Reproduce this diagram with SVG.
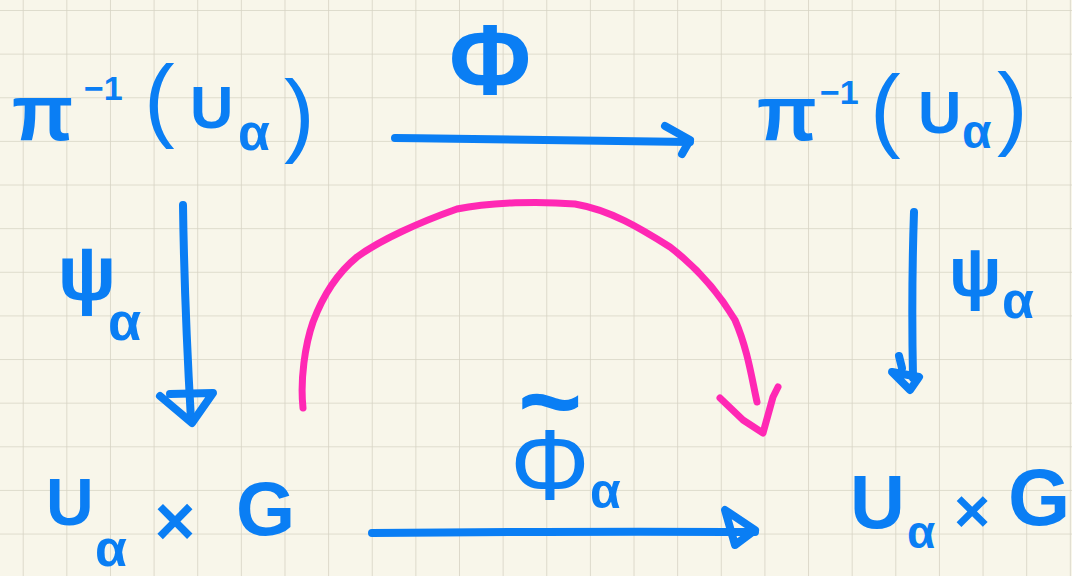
<svg xmlns="http://www.w3.org/2000/svg" width="1072" height="576" viewBox="0 0 1072 576">
  <defs>
    <pattern id="grid" patternUnits="userSpaceOnUse" x="22.7" y="10" width="43.63" height="43.63">
      <path d="M0,0 V43.63 M0,0 H43.63" fill="none" stroke="#d6d3c4" stroke-width="1.6"/>
    </pattern>
  </defs>
  <style>
    .t { font-family: "Liberation Sans", Arial, sans-serif; font-weight: bold; fill: #0a7ef4; }
    .blue { fill: none; stroke: #0a7ef4; stroke-width: 8; stroke-linecap: round; stroke-linejoin: round; }
    .pink { fill: none; stroke: #ff28b4; stroke-width: 7; stroke-linecap: round; stroke-linejoin: round; }
  </style>
  <rect width="1072" height="576" fill="#f8f6ea"/>
  <rect width="1072" height="576" fill="url(#grid)"/>

  <g id="node-top-left">
    <text class="t"><tspan x="12" y="140" font-size="80">π</tspan><tspan x="84" y="100" font-size="34">−1</tspan><tspan x="144" y="130" font-size="92" font-weight="normal">(</tspan><tspan x="190" y="128" font-size="60">U</tspan><tspan x="238" y="150" font-size="52">α</tspan><tspan x="284" y="145" font-size="92" font-weight="normal">)</tspan></text>
  </g>

  <g id="node-top-right">
    <text class="t"><tspan x="757" y="140" font-size="78">π</tspan><tspan x="820" y="104" font-size="34">−1</tspan><tspan x="870" y="140" font-size="92" font-weight="normal">(</tspan><tspan x="918" y="133" font-size="60">U</tspan><tspan x="962" y="148" font-size="48">α</tspan><tspan x="997" y="138" font-size="92" font-weight="normal">)</tspan></text>
  </g>

  <g id="node-bottom-left">
    <text class="t"><tspan x="46" y="525" font-size="66">U</tspan><tspan x="95" y="566" font-size="52">α</tspan><tspan x="175" y="545" font-size="70" text-anchor="middle">×</tspan><tspan x="236" y="535" font-size="76">G</tspan></text>
  </g>

  <g id="node-bottom-right">
    <text class="t"><tspan x="850" y="528" font-size="76">U</tspan><tspan x="907" y="548" font-size="46">α</tspan><tspan x="972" y="532" font-size="62" text-anchor="middle">×</tspan><tspan x="1008" y="525" font-size="80">G</tspan></text>
  </g>

  <g id="label-phi">
    <text class="t" x="490" y="94" font-size="100" font-weight="normal" text-anchor="middle">Φ</text>
  </g>

  <g id="label-psi-left">
    <text class="t"><tspan x="87" y="300" font-size="78" text-anchor="middle">ψ</tspan><tspan x="108" y="340" font-size="54">α</tspan></text>
  </g>

  <g id="label-psi-right">
    <text class="t"><tspan x="975" y="296" font-size="70" text-anchor="middle">ψ</tspan><tspan x="1002" y="318" font-size="52">α</tspan></text>
  </g>

  <g id="label-phi-tilde">
    <text class="t"><tspan x="550" y="439" font-size="110" text-anchor="middle">~</tspan><tspan x="550" y="500" font-size="100" font-weight="normal" text-anchor="middle">Φ</tspan><tspan x="590" y="508" font-size="50">α</tspan></text>
  </g>

  <g id="connectors">
    <path class="blue" d="M395,138 C480,139 560,141 690,142"/>
    <path class="blue" d="M665,126 L690,140 L682,154"/>
    <path class="blue" d="M183,205 C184,280 187,350 191,420"/>
    <path class="blue" d="M170,394 L213,393 L192,423 L160,396"/>
    <path class="blue" d="M914,212 C912,270 912,330 913,378"/>
    <path class="blue" d="M899,356 L902,368 M892,372 L910,390 L919,377 Z"/>
    <path class="blue" d="M372,533 C480,532 600,531 755,532"/>
    <path class="blue" d="M725,510 L735,545 L755,530 Z"/>
    <path class="pink" d="M303,408 C300,380 305,345 313,322 C322,298 335,275 357,257 C380,240 420,222 457,209 C490,202 540,201 575,204 C610,210 640,228 670,247 C700,270 720,295 735,320 C748,350 752,380 757,402"/>
    <path class="pink" d="M720,398 L743,420 L763,433 L773,397 L778,387"/>
  </g>
</svg>
